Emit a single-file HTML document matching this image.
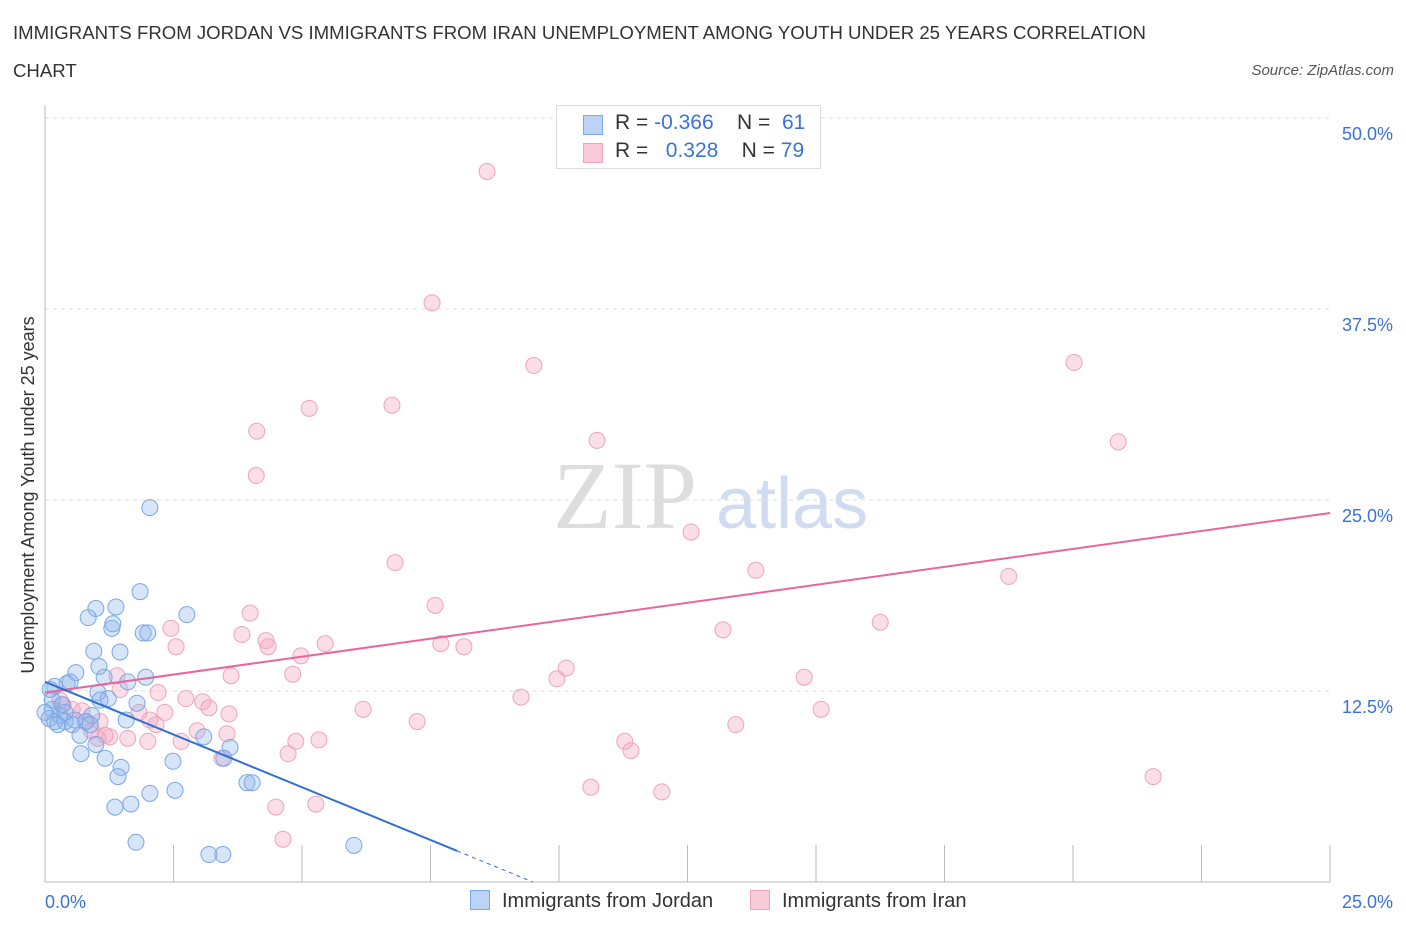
<!DOCTYPE html>
<html><head><meta charset="utf-8">
<style>
body{margin:0;background:#fff;font-family:"Liberation Sans",sans-serif;}
#wrap{position:relative;width:1406px;height:930px;overflow:hidden;}
.t{position:absolute;white-space:nowrap;}
</style></head><body>
<div id="wrap">
<div class="t" style="left:13px;top:14px;font-size:18.6px;color:#333;line-height:38px;">IMMIGRANTS FROM JORDAN VS IMMIGRANTS FROM IRAN UNEMPLOYMENT AMONG YOUTH UNDER 25 YEARS CORRELATION<br>CHART</div>
<div class="t" style="right:12px;top:62px;font-size:15px;color:#555;font-style:italic;">Source: ZipAtlas.com</div>
<svg id="svg" width="1406" height="930" style="position:absolute;left:0;top:0"></svg>
</div>
<script>
const jordanX=[2.04,1.85,0.99,1.38,0.84,2.76,1.30,1.32,1.91,2.00,0.95,1.46,1.05,0.60,1.96,1.15,1.61,0.43,0.49,0.19,1.03,1.23,1.79,0.14,0.08,0.29,0.91,1.58,0.19,0.39,0.53,0.80,0.68,3.09,0.99,3.60,0.70,1.17,3.48,2.49,1.48,1.42,3.93,4.03,2.04,2.53,1.36,1.67,1.77,3.19,3.46,6.01,0.10,0.14,0.33,0.58,0.25,0.88,0.00,0.39,1.07];
const jordanY=[24.5,19.0,17.9,18.0,17.3,17.5,16.6,16.9,16.3,16.3,15.1,15.05,14.1,13.7,13.4,13.4,13.1,13.0,13.1,12.8,12.4,12.0,11.7,11.3,10.7,10.9,10.9,10.6,10.5,10.5,10.3,10.5,9.6,9.5,9.0,8.8,8.4,8.1,8.1,7.9,7.5,6.9,6.5,6.5,5.8,6.0,4.9,5.1,2.6,1.8,1.8,2.4,12.6,11.9,11.6,10.6,10.3,10.3,11.1,11.1,11.9];
const iranX=[8.60,7.53,9.51,20.02,5.14,6.75,4.12,10.74,20.88,4.11,12.57,6.81,13.83,18.75,3.99,7.59,2.45,13.19,16.25,3.83,4.30,4.34,5.45,2.55,7.70,8.15,4.98,4.82,10.14,3.62,9.96,1.40,14.77,2.20,2.74,3.07,9.26,3.19,6.19,15.10,1.83,2.33,3.58,0.72,0.35,1.07,2.16,7.24,13.44,2.96,3.54,1.61,1.26,1.03,4.88,5.33,2.00,2.65,11.28,4.73,11.40,3.44,21.56,10.62,12.00,4.49,5.27,4.63,0.91,1.46,0.29,0.53,0.78,1.17,2.04];
const iranY=[46.5,37.9,33.8,34.0,31.0,31.2,29.5,28.9,28.8,26.6,22.9,20.9,20.4,20.0,17.6,18.1,16.6,16.5,17.0,16.2,15.8,15.4,15.6,15.4,15.6,15.4,14.8,13.6,14.0,13.5,13.3,13.5,13.4,12.4,12.0,11.8,12.1,11.4,11.3,11.3,11.1,11.1,11.0,11.2,11.6,10.5,10.3,10.5,10.3,9.9,9.7,9.4,9.5,9.4,9.2,9.3,9.2,9.2,9.2,8.4,8.6,8.1,6.9,6.2,5.9,4.9,5.1,2.8,9.9,12.6,11.9,11.3,10.5,9.6,10.6];
const jordanTrend=[13.1,-1.38]; // intercept, slope
const iranTrend=[12.4,0.47];
const yTicks=[12.5,25,37.5,50];
const yTickLabels=["12.5%","25.0%","37.5%","50.0%"];

const NS="http://www.w3.org/2000/svg";
const svg=document.getElementById('svg');
const X0=45,X1=1330,Y0=882,YT=118;
const sx=v=>X0+(v/25)*(X1-X0);
const sy=v=>Y0-(v/50)*(Y0-YT);
function mk(tag,at,parent){const e=document.createElementNS(NS,tag);for(const k in at)e.setAttribute(k,at[k]);(parent||svg).appendChild(e);return e;}

yTicks.forEach((t,i)=>{
  const g=mk('line',{x1:X0,x2:X1,y1:sy(t),y2:sy(t),stroke:'#ddd','stroke-dasharray':'4,4'});
  
  
  const tx=mk('text',{x:1393,y:sy(t)+22,'text-anchor':'end','font-size':18,fill:'#3a72d8','font-family':'Liberation Sans, sans-serif'});
  tx.textContent=yTickLabels[i];
  
  
});
let a=mk('line',{x1:X0,x2:X0,y1:105,y2:Y0,stroke:'#bbb'});


a=mk('line',{x1:X0,x2:X1,y1:Y0,y2:Y0,stroke:'#bbb'});


for(let i=1;i<=10;i++){const t=mk('line',{x1:sx(i*2.5),x2:sx(i*2.5),y1:845,y2:Y0,stroke:'#bbb'});

}
[['0.0%',45,'start'],['25.0%',1393,'end']].forEach(d=>{const t=mk('text',{x:d[1],y:908,'text-anchor':d[2],'font-size':18,fill:'#3a72d8','font-family':'Liberation Sans, sans-serif'});t.textContent=d[0];

});
let yt=mk('text',{x:34,y:495,transform:'rotate(-90 34 495)','text-anchor':'middle','font-size':18,fill:'#333','font-family':'Liberation Sans, sans-serif'});
yt.textContent='Unemployment Among Youth under 25 years';


let w=mk('text',{x:553,y:528,'font-size':96,fill:'#ddd','font-family':'Liberation Serif, serif'});w.textContent='ZIP';


w=mk('text',{x:716,y:528,'font-size':72,fill:'#cfdcf2','font-family':'Liberation Sans, sans-serif'});w.textContent='atlas';


iranX.forEach((x,i)=>{const c=mk('circle',{cx:sx(x),cy:sy(iranY[i]),r:8,fill:'rgba(244,160,190,0.35)',stroke:'#efa3bd','stroke-width':1});

});
jordanX.forEach((x,i)=>{const c=mk('circle',{cx:sx(x),cy:sy(jordanY[i]),r:8,fill:'rgba(140,180,235,0.35)',stroke:'#7aa7e6','stroke-width':1});

});
let l=mk('line',{x1:sx(0),y1:sy(iranTrend[0]),x2:sx(25),y2:sy(iranTrend[0]+iranTrend[1]*25),stroke:'#e8679a','stroke-width':2});


const jEnd=8.02, jZero=-jordanTrend[0]/jordanTrend[1];
l=mk('line',{x1:sx(0),y1:sy(jordanTrend[0]),x2:sx(jEnd),y2:sy(jordanTrend[0]+jordanTrend[1]*jEnd),stroke:'#2f6fd8','stroke-width':2});


l=mk('line',{x1:sx(jEnd),y1:sy(jordanTrend[0]+jordanTrend[1]*jEnd),x2:sx(jZero),y2:sy(0),stroke:'#2f6fd8','stroke-width':1,'stroke-dasharray':'4,4'});


</script>
<div class="t" style="left:556px;top:105px;width:263px;height:62px;border:1px solid #ddd;background:#fff;font-size:21px;color:#333;">
  <div style="position:absolute;left:26px;top:9px;width:18px;height:18px;background:#bcd3f5;border:1px solid #7aa7e6;"></div>
  <div style="position:absolute;left:58px;top:5px;">R = <span style="color:#3a72d8">-0.366</span>&nbsp;&nbsp;&nbsp; N = &nbsp;<span style="color:#3a72d8">61</span></div>
  <div style="position:absolute;left:26px;top:37px;width:18px;height:18px;background:#f9cbd9;border:1px solid #efa3bd;"></div>
  <div style="position:absolute;left:58px;top:33px;">R = &nbsp;&nbsp;<span style="color:#3a72d8">0.328</span>&nbsp;&nbsp;&nbsp; N = <span style="color:#3a72d8">79</span></div>
</div>
<div class="t" style="left:470px;top:890px;font-size:20px;color:#333;">
  <span style="display:inline-block;width:18px;height:18px;background:#bcd3f5;border:1px solid #7aa7e6;vertical-align:-3px;margin-right:12px;"></span>Immigrants from Jordan</div>
<div class="t" style="left:750px;top:890px;font-size:20px;color:#333;">
  <span style="display:inline-block;width:18px;height:18px;background:#f9cbd9;border:1px solid #efa3bd;vertical-align:-3px;margin-right:12px;"></span>Immigrants from Iran</div>
</body></html>
